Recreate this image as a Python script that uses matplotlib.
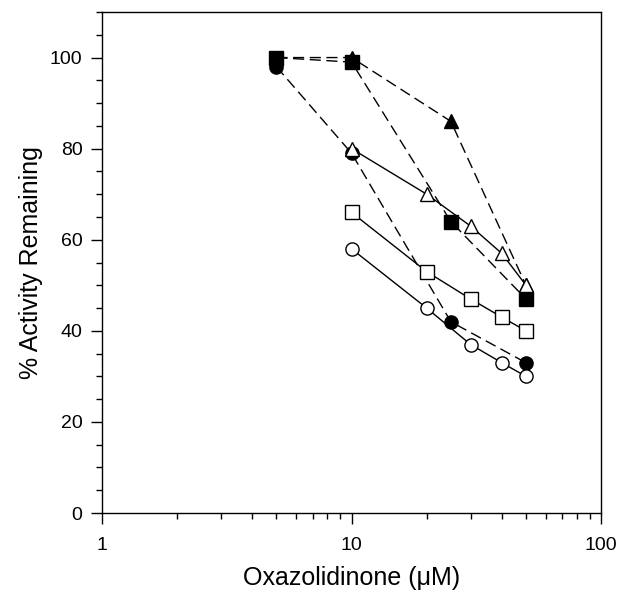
import numpy as np
import matplotlib
matplotlib.use('Agg')
from matplotlib import pyplot as plt
from matplotlib.ticker import MultipleLocator, LogLocator, NullFormatter, FixedLocator, FixedFormatter

plt.rcParams['font.family'] = ['Liberation Sans', 'DejaVu Sans']

# concentrations (uM)
conc_a = [5, 10, 25, 50]
conc_b = [10, 20, 30, 40, 50]

# dashed series
filled_triangle = [100, 100, 86, 50]
filled_square = [100, 99, 64, 47]
filled_circle = [98, 79, 42, 33]

# solid series
open_triangle = [80, 70, 63, 57, 50]
open_square = [66, 53, 47, 43, 40]
open_circle = [58, 45, 37, 33, 30]

fig = plt.figure(figsize=(6.2, 5.92), dpi=100)
ax = fig.add_axes([0.1645, 0.1334, 0.805, 0.8463])

ms = 9.5
dash = (0, (8, 4))
kw = dict(color='k', lw=1.0, markersize=ms, markeredgewidth=1.0, markeredgecolor='k')

ax.plot(conc_a, filled_triangle, marker='^', markerfacecolor='k', linestyle=dash, **kw)
ax.plot(conc_a, filled_square, marker='s', markerfacecolor='k', linestyle=dash, **kw)
ax.plot(conc_a, filled_circle, marker='o', markerfacecolor='k', linestyle=dash, **kw)

ax.plot(conc_b, open_triangle, marker='^', markerfacecolor='white', linestyle='-', **kw)
ax.plot(conc_b, open_square, marker='s', markerfacecolor='white', linestyle='-', **kw)
ax.plot(conc_b, open_circle, marker='o', markerfacecolor='white', linestyle='-', **kw)

ax.set_xscale('log')
ax.set_xlim(1, 100)
ax.set_ylim(0, 110)

ax.xaxis.set_major_locator(FixedLocator([1, 10, 100]))
ax.xaxis.set_major_formatter(FixedFormatter(['1', '10', '100']))
ax.xaxis.set_minor_locator(LogLocator(base=10, subs=np.arange(2, 10)))
ax.xaxis.set_minor_formatter(NullFormatter())

ax.yaxis.set_major_locator(FixedLocator([0, 20, 40, 60, 80, 100]))
ax.yaxis.set_minor_locator(MultipleLocator(5))

ax.tick_params(which='major', direction='out', length=8, width=1, labelsize=14, pad=6)
ax.tick_params(which='minor', direction='out', length=4, width=1)
ax.tick_params(axis='x', which='major', pad=9)

for s in ax.spines.values():
    s.set_linewidth(1.0)

ax.set_xlabel('Oxazolidinone (\u03bcM)', fontsize=18, labelpad=9)
ax.set_ylabel('% Activity Remaining', fontsize=18, labelpad=5)

fig.savefig('out.png', dpi=100)
